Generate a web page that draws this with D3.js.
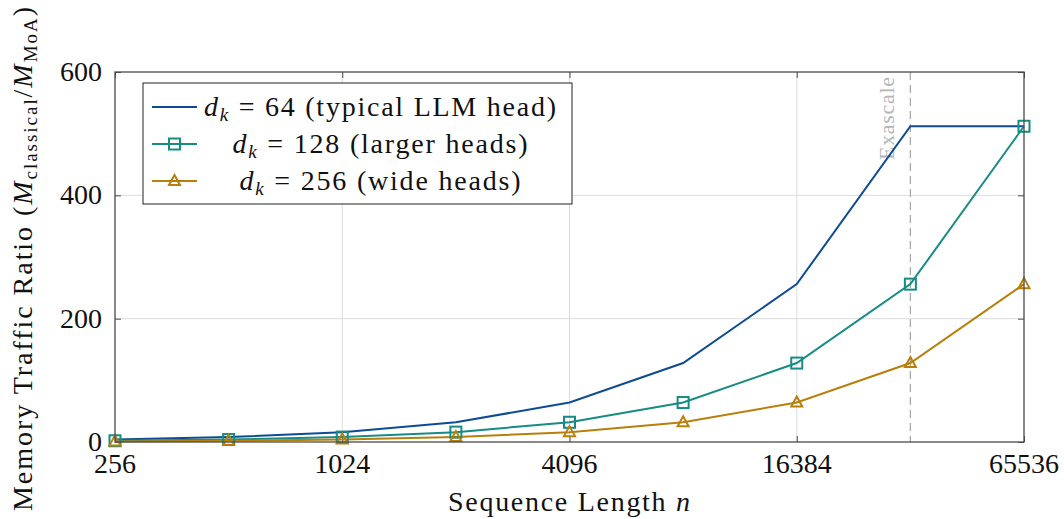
<!DOCTYPE html>
<html>
<head>
<meta charset="utf-8">
<script src="https://cdn.jsdelivr.net/npm/d3@7"></script>
<style>
  body { margin: 0; background: #fff; }
  text { font-family: "Liberation Serif", "DejaVu Serif", serif; fill: #111; }
</style>
</head>
<body>
<svg id="chart" width="1064" height="519"></svg>
<script>
// Data
const seqLen = [256, 512, 1024, 2048, 4096, 8192, 16384, 32768, 65536];
const ratio64 = [4, 8, 16, 32, 64, 128, 256, 512, 512];
const ratio128 = [2, 4, 8, 16, 32, 64, 128, 256, 512];
const ratio256 = [1, 2, 4, 8, 16, 32, 64, 128, 256];
const xTicks = [256, 1024, 4096, 16384, 65536];
const yTicks = [0, 200, 400, 600];
const exascaleN = 32768;

const series = [
  {k: '64', note: '(typical LLM head)', values: ratio64, color: '#0d4c94', marker: null, len: 352},
  {k: '128', note: '(larger heads)', values: ratio128, color: '#168c84', marker: 'square', len: 295},
  {k: '256', note: '(wide heads)', values: ratio256, color: '#b8800b', marker: 'triangle', len: 281}
];

// Dimensions
const margin = {left: 115, top: 72, right: 40, bottom: 77};
const width = 1064 - margin.left - margin.right;
const height = 519 - margin.top - margin.bottom;
const fontSize = 28;

const svg = d3.select('#chart');
const g = svg.append('g').attr('transform', `translate(${margin.left},${margin.top})`);

const x = d3.scaleLog().base(2).domain([256, 65536]).range([0, width]);
const y = d3.scaleLinear().domain([0, 600]).range([height, 0]);

// grid
g.append('g').selectAll('line').data(xTicks.slice(1, -1)).join('line')
  .attr('x1', d => x(d)).attr('x2', d => x(d))
  .attr('y1', 0).attr('y2', height)
  .attr('stroke', '#dcdcdc').attr('stroke-width', 1);
g.append('g').selectAll('line').data(yTicks.slice(1, -1)).join('line')
  .attr('x1', 0).attr('x2', width)
  .attr('y1', d => y(d)).attr('y2', d => y(d))
  .attr('stroke', '#dcdcdc').attr('stroke-width', 1);

// inner ticks, all four sides
const tickLen = 6;
const axisColor = '#4a4a4a';
g.append('g').call(d3.axisBottom(x).tickValues(xTicks).tickSize(-tickLen).tickFormat(''))
  .attr('transform', `translate(0,${height})`);
g.append('g').call(d3.axisTop(x).tickValues(xTicks).tickSize(-tickLen).tickFormat(''));
g.append('g').call(d3.axisLeft(y).tickValues(yTicks).tickSize(-tickLen).tickFormat(''));
g.append('g').call(d3.axisRight(y).tickValues(yTicks).tickSize(-tickLen).tickFormat(''))
  .attr('transform', `translate(${width},0)`);
g.selectAll('.domain').remove();
g.selectAll('.tick line').attr('stroke', axisColor);

// tick labels
g.append('g').selectAll('text').data(xTicks).join('text')
  .attr('x', d => x(d)).attr('y', height + 31)
  .attr('text-anchor', 'middle')
  .style('font-size', fontSize + 'px')
  .text(d => d);
g.append('g').selectAll('text').data(yTicks).join('text')
  .attr('x', -13).attr('y', d => y(d) + 9)
  .attr('text-anchor', 'end')
  .style('font-size', fontSize + 'px')
  .text(d => d);

// exascale marker
g.append('line')
  .attr('x1', x(exascaleN)).attr('x2', x(exascaleN))
  .attr('y1', 0).attr('y2', height)
  .attr('stroke', '#aaa').attr('stroke-width', 1.3)
  .attr('stroke-dasharray', '8,5');
g.append('text')
  .attr('transform', `translate(${x(exascaleN) - 16},5) rotate(-90)`)
  .attr('text-anchor', 'end')
  .attr('textLength', 83)
  .style('font-size', '22px')
  .style('fill', '#b5b5b5')
  .text('Exascale');

// lines
const line = d3.line()
  .x((d, i) => x(seqLen[i]))
  .y(d => y(d));

series.forEach(s => {
  g.append('path')
    .datum(s.values)
    .attr('fill', 'none')
    .attr('stroke', s.color)
    .attr('stroke-width', 2)
    .attr('d', line);
});

function drawMarker(sel, type, color) {
  if (type === 'square') {
    sel.append('rect')
      .attr('x', -5.5).attr('y', -5.5).attr('width', 11).attr('height', 11)
      .attr('fill', 'none').attr('stroke', color).attr('stroke-width', 2);
  } else if (type === 'triangle') {
    sel.append('path')
      .attr('d', 'M0,-6L5.5,4L-5.5,4Z')
      .attr('fill', 'none').attr('stroke', color).attr('stroke-width', 2);
  }
}

series.forEach(s => {
  if (!s.marker) return;
  g.append('g').selectAll('g').data(s.values).join('g')
    .attr('transform', (d, i) => `translate(${x(seqLen[i])},${y(d)})`)
    .each(function () { drawMarker(d3.select(this), s.marker, s.color); });
});

// frame
g.append('rect')
  .attr('width', width).attr('height', height)
  .attr('fill', 'none').attr('stroke', axisColor).attr('stroke-width', 1.3);

// legend
const legend = g.append('g').attr('transform', 'translate(28,11)');
legend.append('rect')
  .attr('width', 429).attr('height', 121)
  .attr('fill', '#fff').attr('stroke', '#222').attr('stroke-width', 1);

series.forEach((s, i) => {
  const row = legend.append('g').attr('transform', `translate(0,${24 + i * 37})`);
  row.append('line')
    .attr('x1', 9).attr('x2', 54).attr('y1', 0).attr('y2', 0)
    .attr('stroke', s.color).attr('stroke-width', 2);
  const m = row.append('g').attr('transform', 'translate(31.5,0)');
  drawMarker(m, s.marker, s.color);
  const t = row.append('text')
    .attr('x', 237).attr('y', 9)
    .attr('text-anchor', 'middle')
    .attr('textLength', s.len)
    .style('font-size', fontSize + 'px');
  t.append('tspan').style('font-style', 'italic').text('d');
  t.append('tspan').style('font-style', 'italic').style('font-size', '19px').attr('dy', 5).text('k');
  t.append('tspan').attr('dy', -5).text(` = ${s.k} ${s.note}`);
});

// axis titles
svg.append('text')
  .attr('x', 569).attr('y', 511)
  .attr('text-anchor', 'middle')
  .attr('textLength', 242)
  .style('font-size', fontSize + 'px')
  .call(t => {
    t.append('tspan').text('Sequence Length ');
    t.append('tspan').style('font-style', 'italic').text('n');
  });

svg.append('text')
  .attr('transform', 'translate(32,259) rotate(-90)')
  .attr('text-anchor', 'middle')
  .attr('textLength', 504)
  .style('font-size', fontSize + 'px')
  .call(t => {
    t.append('tspan').text('Memory Traffic Ratio (');
    t.append('tspan').style('font-style', 'italic').text('M');
    t.append('tspan').style('font-size', '19px').attr('dy', 5).text('classical');
    t.append('tspan').attr('dy', -5).text('/');
    t.append('tspan').style('font-style', 'italic').text('M');
    t.append('tspan').style('font-size', '19px').attr('dy', 5).text('MoA');
    t.append('tspan').attr('dy', -5).text(')');
  });
</script>
</body>
</html>
